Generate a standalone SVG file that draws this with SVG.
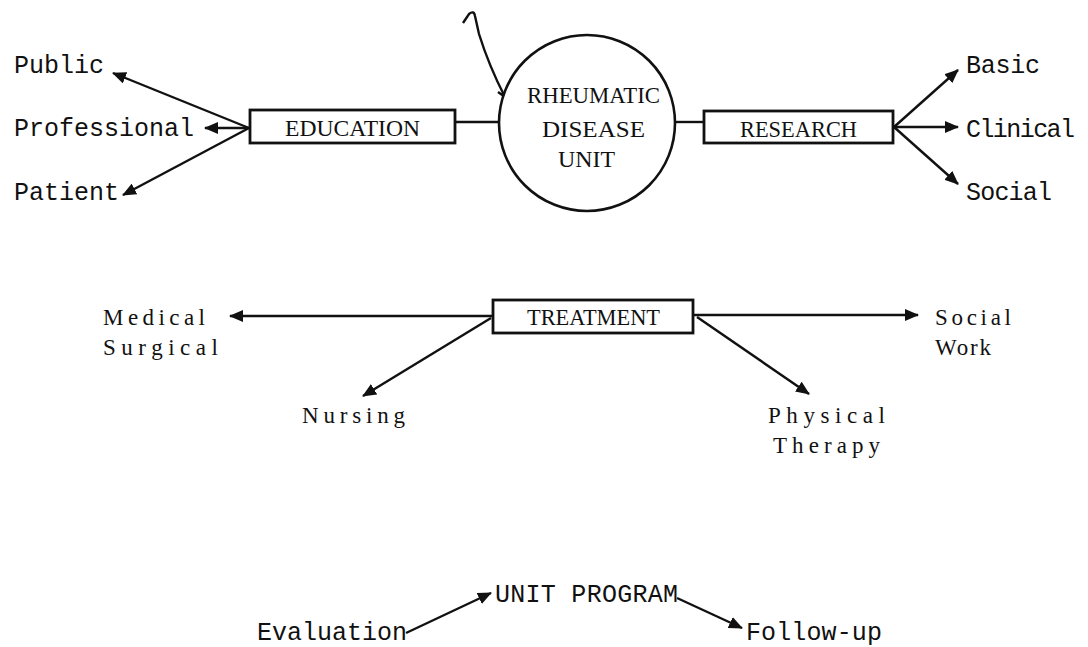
<svg xmlns="http://www.w3.org/2000/svg" width="1088" height="647" viewBox="0 0 1088 647">
<style>
.mono{font-family:"Liberation Mono","Courier New",monospace;font-size:25px;fill:#111}
.ser{font-family:"Liberation Serif","Times New Roman",serif;font-size:23px;fill:#111}
.box{fill:#fff;stroke:#111;stroke-width:2.8}
.ln{fill:none;stroke:#111;stroke-width:2.4}
.ar{fill:none;stroke:#111;stroke-width:2.4;marker-end:url(#ah)}
</style>
<defs>
<marker id="ah" viewBox="0 0 14 12" refX="13" refY="6" markerWidth="14" markerHeight="12" markerUnits="userSpaceOnUse" orient="auto">
<path d="M0,0 L14,6 L0,12 Z" fill="#111"/>
</marker>
</defs>
<rect width="1088" height="647" fill="#fff"/>
<g id="connectors">
<line class="ln" x1="455" y1="122" x2="499" y2="122"/>
<line class="ln" x1="675" y1="122" x2="704" y2="122"/>
<line class="ar" x1="249" y1="128" x2="113" y2="73"/>
<line class="ar" x1="249" y1="128" x2="205" y2="128"/>
<line class="ar" x1="249" y1="128" x2="123" y2="195"/>
<line class="ar" x1="894" y1="127" x2="958" y2="70"/>
<line class="ar" x1="894" y1="127" x2="958" y2="127"/>
<line class="ar" x1="894" y1="127" x2="958" y2="184"/>
<line class="ar" x1="493" y1="316" x2="230" y2="316"/>
<line class="ar" x1="491" y1="318" x2="363" y2="396"/>
<line class="ar" x1="693" y1="315" x2="918" y2="315"/>
<line class="ar" x1="697" y1="317" x2="809" y2="394"/>
<line class="ar" x1="406" y1="633" x2="491" y2="593"/>
<line class="ar" x1="677" y1="598" x2="742" y2="628"/>
<path class="ln" stroke-width="1.8" d="M463,23 L469,14 Q474,10 475,16 L479,34 Q489,66 505,97 M505,97 L498,92 M505,97 L511,101 M505,97 L503,104"/>
</g>
<g id="education">
<rect class="box" x="250" y="110" width="205" height="33"/>
<text class="ser" x="285" y="136" textLength="135" lengthAdjust="spacingAndGlyphs">EDUCATION</text>
</g>
<g id="rheumatic-disease-unit">
<circle cx="587" cy="123" r="88" fill="#fff" stroke="#111" stroke-width="2.6"/>
<text class="ser" x="527" y="103" textLength="133" lengthAdjust="spacingAndGlyphs">RHEUMATIC</text>
<text class="ser" x="542" y="137" textLength="103" lengthAdjust="spacingAndGlyphs">DISEASE</text>
<text class="ser" x="558" y="167" textLength="57" lengthAdjust="spacingAndGlyphs">UNIT</text>
</g>
<g id="research">
<rect class="box" x="704" y="111" width="189" height="32"/>
<text class="ser" x="740" y="137" textLength="117" lengthAdjust="spacingAndGlyphs">RESEARCH</text>
</g>
<g id="treatment">
<rect class="box" x="493" y="300" width="200" height="33"/>
<text class="ser" x="527" y="325" textLength="133" lengthAdjust="spacingAndGlyphs">TREATMENT</text>
</g>
<g id="public"><text class="mono" x="14" y="73">Public</text></g>
<g id="professional"><text class="mono" x="14" y="136">Professional</text></g>
<g id="patient"><text class="mono" x="14" y="200">Patient</text></g>
<g id="basic"><text class="mono" x="966" y="73" textLength="74">Basic</text></g>
<g id="clinical"><text class="mono" x="966" y="137" textLength="109">Clinical</text></g>
<g id="social"><text class="mono" x="966" y="200" textLength="86">Social</text></g>
<g id="medical-surgical">
<text class="ser" x="103" y="325" textLength="102" lengthAdjust="spacing">Medical</text>
<text class="ser" x="103" y="355" textLength="115" lengthAdjust="spacing">Surgical</text>
</g>
<g id="nursing"><text class="ser" x="302" y="423" textLength="103" lengthAdjust="spacing">Nursing</text></g>
<g id="social-work">
<text class="ser" x="935" y="325" textLength="76" lengthAdjust="spacing">Social</text>
<text class="ser" x="935" y="355" textLength="56" lengthAdjust="spacing">Work</text>
</g>
<g id="physical-therapy">
<text class="ser" x="768" y="423" textLength="117" lengthAdjust="spacing">Physical</text>
<text class="ser" x="773" y="453" textLength="107" lengthAdjust="spacing">Therapy</text>
</g>
<g id="unit-program"><text class="mono" x="495" y="602" textLength="183">UNIT PROGRAM</text></g>
<g id="evaluation"><text class="mono" x="257" y="640" textLength="150">Evaluation</text></g>
<g id="follow-up"><text class="mono" x="746" y="640" textLength="136">Follow-up</text></g>
</svg>
